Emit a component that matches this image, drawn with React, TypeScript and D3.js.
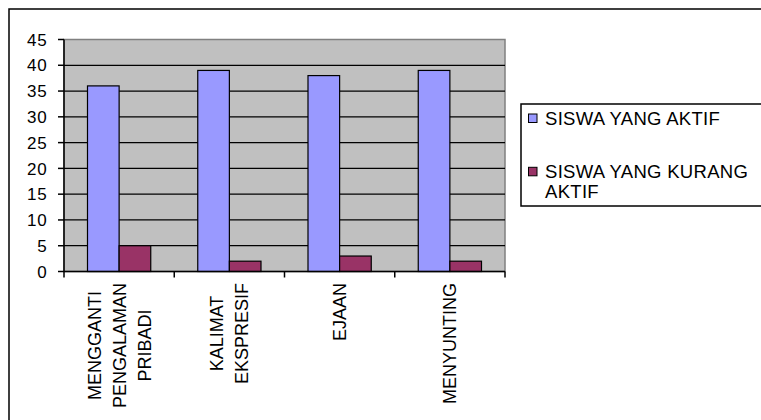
import * as d3 from "d3";

const categories = [
  ["MENGGANTI", "PENGALAMAN", "PRIBADI"],
  ["KALIMAT", "EKSPRESIF"],
  ["EJAAN"],
  ["MENYUNTING"],
];
const seriesNames = [["SISWA YANG AKTIF"], ["SISWA YANG KURANG", "AKTIF"]];
const aktif = [36, 39, 38, 39];
const kurangAktif = [5, 2, 3, 2];
const yTicks = [0, 5, 10, 15, 20, 25, 30, 35, 40, 45];
const colors = ["#9999FF", "#993366"];

const FONT = "Arial, 'Liberation Sans', sans-serif";

// rough text width via canvas, used to centre the rotated label blocks
const ctx = document.createElement("canvas").getContext("2d")!;
function textWidth(s: string, size: number) {
  ctx.font = `${size}px 'Liberation Sans', Arial, sans-serif`;
  return ctx.measureText(s).width;
}

export default function App() {
  const width = 761;
  const height = 420;
  const margin = { left: 64, top: 39.5, right: 505, bottom: 271.5 };

  const x = d3
    .scaleBand<number>()
    .domain(d3.range(categories.length))
    .range([margin.left, margin.right]);
  const inner = d3
    .scaleBand<number>()
    .domain([0, 1])
    .range([23.5, x.bandwidth() - 23.5]);
  const y = d3.scaleLinear().domain([0, 45]).range([margin.bottom, margin.top]);

  const series = [aktif, kurangAktif];
  const catFont = 18;
  const lineGap = 25;

  return (
    <svg
      width={width}
      height={height}
      style={{ position: "absolute", left: 0, top: 0, background: "#fff" }}
      fontFamily={FONT}
    >
      <rect x={9} y={9} width={800} height={500} fill="#fff" stroke="#000" strokeWidth={1.5} />

      {/* plot area */}
      <rect
        x={margin.left}
        y={margin.top}
        width={margin.right - margin.left}
        height={margin.bottom - margin.top}
        fill="#C0C0C0"
        stroke="#808080"
        strokeWidth={1.5}
      />
      {yTicks
        .filter((t) => t > 0 && t < 45)
        .map((t) => (
          <line key={t} x1={margin.left} x2={margin.right} y1={y(t)} y2={y(t)} stroke="#000" strokeWidth={1.2} />
        ))}

      {series.map((vals, s) =>
        vals.map((v, i) => (
          <rect
            key={`${s}-${i}`}
            x={x(i)! + inner(s)!}
            y={y(v)}
            width={inner.bandwidth()}
            height={y(0) - y(v)}
            fill={colors[s]}
            stroke="#000"
            strokeWidth={1.2}
          />
        ))
      )}

      {/* axes */}
      <line x1={margin.left} x2={margin.left} y1={margin.top} y2={margin.bottom} stroke="#000" strokeWidth={1.5} />
      <line x1={margin.left} x2={margin.right} y1={margin.bottom} y2={margin.bottom} stroke="#000" strokeWidth={1.5} />
      {yTicks.map((t) => (
        <g key={t}>
          <line x1={margin.left - 6} x2={margin.left} y1={y(t)} y2={y(t)} stroke="#000" strokeWidth={1.5} />
          <text
            x={47.5}
            y={y(t)}
            dy="0.36em"
            textAnchor="end"
            fontSize={17}
            letterSpacing={0.8}
            fill="#000"
          >
            {t}
          </text>
        </g>
      ))}
      {d3.range(categories.length + 1).map((i) => {
        const px = margin.left + i * x.bandwidth();
        return <line key={i} x1={px} x2={px} y1={margin.bottom} y2={margin.bottom + 6} stroke="#000" strokeWidth={1.5} />;
      })}

      {categories.map((lines, i) => {
        const cx = x(i)! + x.bandwidth() / 2;
        const maxLen = d3.max(lines, (l) => textWidth(l, catFont))!;
        const cy = 283 + maxLen / 2;
        const n = lines.length;
        return lines.map((l, j) => {
          const lx = cx + (j - (n - 1) / 2) * lineGap;
          return (
            <text
              key={`${i}-${j}`}
              transform={`translate(${lx},${cy}) rotate(-90)`}
              textAnchor="middle"
              dy="0.36em"
              fontSize={catFont}
              fill="#000"
            >
              {l}
            </text>
          );
        });
      })}

      {/* legend */}
      <rect x={521} y={104} width={300} height={102} fill="#fff" stroke="#000" strokeWidth={1.5} />
      {seriesNames.map((lines, s) => {
        const top = s === 0 ? 125 : 178.3;
        return (
          <g key={s}>
            <rect x={528.5} y={top - 11} width={8.5} height={8.5} fill={colors[s]} stroke="#000" strokeWidth={1} />
            {lines.map((l, j) => (
              <text key={j} x={545} y={top + j * 19.5} fontSize={18.5} letterSpacing={0.3} fill="#000">
                {l}
              </text>
            ))}
          </g>
        );
      })}
    </svg>
  );
}
